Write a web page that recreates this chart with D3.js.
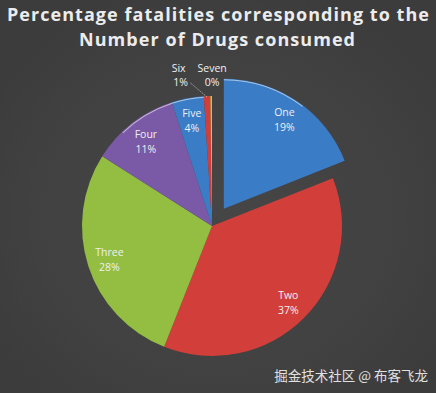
<!DOCTYPE html>
<html><head><meta charset="utf-8">
<script src="https://cdn.jsdelivr.net/npm/d3@7"></script>
<style>
html,body{margin:0;padding:0;background:#3e3e3e;}
svg{display:block;}
</style></head>
<body>
<svg id="chart" width="436" height="393"></svg>
<script>
const titleLines = ["Percentage fatalities corresponding to the", "Number of Drugs consumed"];
const categories = ["One", "Two", "Three", "Four", "Five", "Six", "Seven"];
const values = [19, 37, 28, 11, 4, 0.8, 0.2];
const palette = ["#3b7cc6", "#d23f3a", "#93be42", "#7a59a6", "#3b7cc6", "#d23f3a", "#d8c23a"];
const watermark = "掘金技术社区 @ 布客飞龙";

const W = 436, H = 393;
const svg = d3.select("#chart");
const defs = svg.append("defs");
const bg = defs.append("radialGradient").attr("id","bg").attr("cx","0.5").attr("cy","0.55").attr("r","0.6");
bg.append("stop").attr("offset","0").attr("stop-color","#464646");
bg.append("stop").attr("offset","0.7").attr("stop-color","#414141");
bg.append("stop").attr("offset","1").attr("stop-color","#3c3c3c");
svg.append("rect").attr("width",W).attr("height",H).attr("fill","url(#bg)");

// title
svg.append("text").attr("x",W/2).attr("y",21).attr("text-anchor","middle")
  .attr("font-family","Open Sans").attr("font-weight","bold").attr("font-size",18)
  .attr("fill","#ececec").attr("textLength",422).attr("lengthAdjust","spacing").text(titleLines[0]);
svg.append("text").attr("x",W/2 - 1).attr("y",46).attr("text-anchor","middle")
  .attr("font-family","Open Sans").attr("font-weight","bold").attr("font-size",18)
  .attr("fill","#ececec").attr("textLength",276).attr("lengthAdjust","spacing").text(titleLines[1]);

const cx = 212, cy = 226, R = 130;
const data = categories.map((c,i)=>({name:c, value:values[i], color:palette[i]}));
const total = d3.sum(values);
const pie = d3.pie().sort(null).value(d=>d.value);
const arcs = pie(data);
const arc = d3.arc().innerRadius(0).outerRadius(R);
const explode = i => i === 0 ? 21 : 0;
const g = svg.append("g").attr("transform",`translate(${cx},${cy})`);

const sg = g.selectAll("g.slice").data(arcs).join("g").attr("class","slice")
  .attr("transform",(d,i)=>{
    const m = (d.startAngle+d.endAngle)/2, e = explode(i);
    return `translate(${e*Math.sin(m)},${-e*Math.cos(m)})`;
  });
sg.append("path").attr("d",arc).attr("fill",d=>d.data.color);
// subtle highlight on upper rims
const rim = d3.arc().innerRadius(R-1.5).outerRadius(R-0.5);
sg.filter((d,i)=>i===0||i===3||i===4).append("path")
  .attr("d",(d)=>{
    const idx = arcs.indexOf(d);
    let s = d.startAngle, e = d.endAngle;
    if (idx===0) e = s + (e - s)*0.55;
    if (idx===3) s = s + (e - s)*0.35;
    return rim({startAngle:s,endAngle:e});
  })
  .attr("fill","#ffffff").attr("opacity",0.55);

const fmt = d3.format(".0%");
const labelArc = d3.arc().innerRadius(R*0.83).outerRadius(R*0.83);
const fontFam = "Open Sans";
sg.filter((d,i)=>i<5).each(function(d){
  const [x,y] = labelArc.centroid(d);
  const t = d3.select(this).append("text").attr("text-anchor","middle")
    .attr("font-family",fontFam).attr("font-size",10.5).attr("fill","#f0f0f0");
  t.append("tspan").attr("x",x).attr("y",y-3).text(d.data.name);
  t.append("tspan").attr("x",x).attr("y",y+12).text(fmt(d.data.value/total));
});
// outside labels for the tiny slices
const outArc = d3.arc().innerRadius(R+12).outerRadius(R+12);
const nudges = {5: -28, 6: 1};
arcs.forEach((d,i)=>{
  if (i < 5) return;
  const [x0,y] = outArc.centroid(d);
  const x = x0 + nudges[i];
  const t = g.append("text").attr("text-anchor","middle")
    .attr("font-family",fontFam).attr("font-size",10.5).attr("fill","#f0f0f0");
  t.append("tspan").attr("x",x).attr("y",y-12).text(d.data.name);
  t.append("tspan").attr("x",x + (i===5?2:0)).attr("y",y+2).text(fmt(d.data.value/total));
  if (i === 5) {
    const m = (d.startAngle+d.endAngle)/2;
    g.append("line").attr("x1",x+12).attr("y1",y-1)
      .attr("x2",(R-1)*Math.sin(m)).attr("y2",-(R-1)*Math.cos(m))
      .attr("stroke","#bdbdbd").attr("stroke-width",0.8).attr("stroke-dasharray","1.5,1");
  }
});

svg.append("text").attr("x",428).attr("y",381).attr("text-anchor","end")
  .attr("font-family","Noto Sans CJK SC").attr("font-size",13.5).attr("fill","#e0e0e0")
  .text(watermark);
</script>
</body></html>
